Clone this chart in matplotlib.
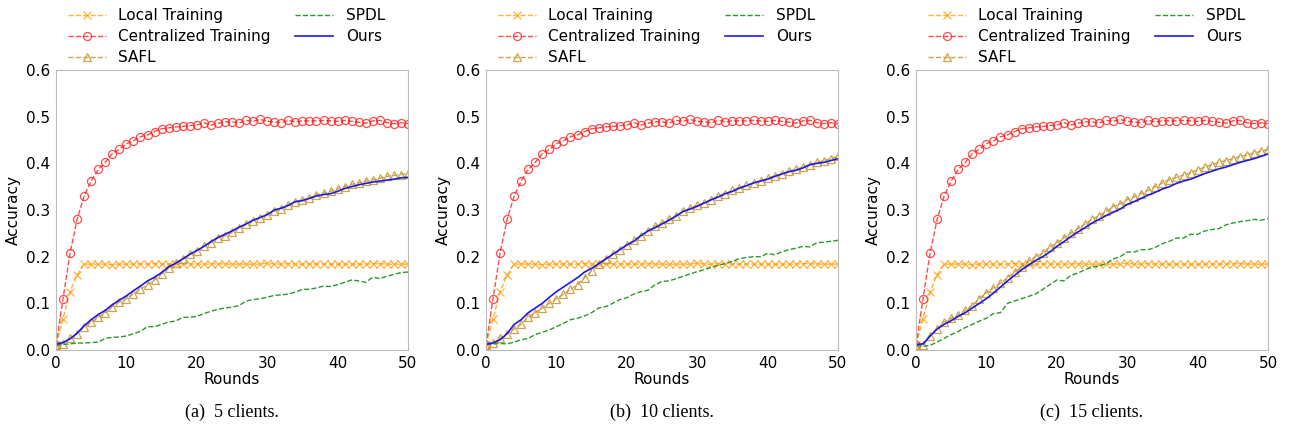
import matplotlib
matplotlib.use('Agg')
import matplotlib.pyplot as plt
import numpy as np

rounds = np.arange(51)

central = [0.01, 0.11, 0.208, 0.28, 0.33, 0.362, 0.387, 0.402, 0.421, 0.43, 0.442,
           0.448, 0.457, 0.461, 0.468, 0.474, 0.476, 0.478, 0.479, 0.481, 0.482,
           0.487, 0.482, 0.486, 0.489, 0.489, 0.486, 0.492, 0.49, 0.494, 0.49,
           0.489, 0.487, 0.492, 0.489, 0.491, 0.491, 0.491, 0.492, 0.491, 0.49,
           0.492, 0.49, 0.488, 0.486, 0.491, 0.492, 0.487, 0.485, 0.487, 0.485]

local = [0.01, 0.067, 0.125, 0.161, 0.184, 0.184, 0.184, 0.184, 0.183, 0.184, 0.184,
         0.184, 0.184, 0.184, 0.185, 0.184, 0.184, 0.184, 0.184, 0.184, 0.184,
         0.184, 0.184, 0.185, 0.184, 0.184, 0.184, 0.184, 0.184, 0.184, 0.186,
         0.184, 0.184, 0.185, 0.184, 0.184, 0.184, 0.184, 0.184, 0.184, 0.184,
         0.184, 0.184, 0.184, 0.184, 0.185, 0.185, 0.184, 0.184, 0.184, 0.184]

safl_5 = [0.01, 0.013, 0.025, 0.035, 0.05, 0.06, 0.07, 0.08, 0.093, 0.103, 0.11,
          0.12, 0.13, 0.14, 0.15, 0.163, 0.175, 0.187, 0.195, 0.205, 0.213,
          0.222, 0.23, 0.24, 0.245, 0.252, 0.262, 0.27, 0.277, 0.283, 0.29,
          0.297, 0.303, 0.31, 0.317, 0.322, 0.326, 0.333, 0.336, 0.34, 0.345,
          0.35, 0.355, 0.358, 0.362, 0.365, 0.368, 0.372, 0.374, 0.376, 0.378]
ours_5 = [0.012, 0.016, 0.024, 0.036, 0.052, 0.065, 0.076, 0.085, 0.097, 0.107, 0.116,
          0.127, 0.137, 0.148, 0.156, 0.166, 0.178, 0.186, 0.195, 0.205, 0.213,
          0.222, 0.232, 0.241, 0.248, 0.255, 0.263, 0.27, 0.278, 0.284, 0.29,
          0.3, 0.304, 0.31, 0.318, 0.32, 0.325, 0.33, 0.333, 0.335, 0.34,
          0.346, 0.35, 0.354, 0.357, 0.36, 0.362, 0.364, 0.366, 0.369, 0.37]
spdl_5 = [0.01, 0.012, 0.013, 0.015, 0.015, 0.016, 0.017, 0.025, 0.027, 0.028, 0.03,
          0.035, 0.04, 0.05, 0.05, 0.055, 0.06, 0.062, 0.07, 0.07, 0.072,
          0.078, 0.083, 0.087, 0.09, 0.092, 0.095, 0.105, 0.108, 0.11, 0.113,
          0.117, 0.118, 0.12, 0.124, 0.13, 0.13, 0.133, 0.137, 0.136, 0.14,
          0.145, 0.15, 0.148, 0.145, 0.156, 0.153, 0.158, 0.162, 0.166, 0.167]

safl_10 = [0.01, 0.015, 0.025, 0.035, 0.045, 0.055, 0.07, 0.08, 0.09, 0.1, 0.11,
           0.12, 0.13, 0.14, 0.155, 0.17, 0.185, 0.195, 0.205, 0.215, 0.225,
           0.235, 0.245, 0.255, 0.265, 0.272, 0.28, 0.288, 0.297, 0.304, 0.31,
           0.316, 0.322, 0.33, 0.335, 0.342, 0.348, 0.353, 0.358, 0.363, 0.368,
           0.373, 0.378, 0.383, 0.387, 0.392, 0.397, 0.402, 0.406, 0.41, 0.415]
ours_10 = [0.012, 0.015, 0.022, 0.035, 0.055, 0.065, 0.08, 0.09, 0.1, 0.113, 0.125,
           0.135, 0.145, 0.155, 0.167, 0.175, 0.185, 0.195, 0.205, 0.215, 0.225,
           0.233, 0.245, 0.255, 0.262, 0.27, 0.278, 0.287, 0.297, 0.302, 0.308,
           0.315, 0.322, 0.328, 0.335, 0.34, 0.347, 0.352, 0.358, 0.362, 0.366,
           0.372, 0.377, 0.382, 0.385, 0.39, 0.397, 0.4, 0.402, 0.406, 0.41]
spdl_10 = [0.012, 0.013, 0.014, 0.013, 0.017, 0.022, 0.025, 0.033, 0.038, 0.043, 0.05,
           0.057, 0.065, 0.068, 0.073, 0.08, 0.09, 0.093, 0.1, 0.108, 0.112,
           0.12, 0.125, 0.128, 0.14, 0.147, 0.148, 0.153, 0.158, 0.163, 0.168,
           0.172, 0.177, 0.182, 0.185, 0.19, 0.196, 0.198, 0.2, 0.2, 0.207,
           0.204, 0.21, 0.215, 0.218, 0.222, 0.221, 0.23, 0.231, 0.233, 0.235]

safl_15 = [0.008, 0.01, 0.03, 0.045, 0.06, 0.068, 0.075, 0.085, 0.095, 0.11, 0.123,
           0.133, 0.143, 0.155, 0.167, 0.178, 0.19, 0.2, 0.207, 0.22, 0.23,
           0.24, 0.25, 0.26, 0.27, 0.28, 0.288, 0.297, 0.307, 0.313, 0.322,
           0.328, 0.335, 0.342, 0.35, 0.358, 0.365, 0.37, 0.375, 0.38, 0.386,
           0.392, 0.397, 0.402, 0.406, 0.41, 0.414, 0.418, 0.422, 0.426, 0.43]
ours_15 = [0.012, 0.013, 0.03, 0.045, 0.055, 0.063, 0.072, 0.08, 0.09, 0.1, 0.11,
           0.122, 0.135, 0.148, 0.16, 0.172, 0.182, 0.192, 0.2, 0.21, 0.222,
           0.232, 0.243, 0.253, 0.262, 0.272, 0.28, 0.288, 0.295, 0.302, 0.312,
           0.318, 0.325, 0.332, 0.338, 0.345, 0.35, 0.357, 0.362, 0.366, 0.372,
           0.378, 0.383, 0.388, 0.392, 0.397, 0.402, 0.406, 0.41, 0.415, 0.42]
spdl_15 = [0.01, 0.008, 0.01, 0.017, 0.025, 0.033, 0.04, 0.048, 0.055, 0.062, 0.068,
           0.078, 0.08, 0.1, 0.105, 0.11, 0.115, 0.12, 0.13, 0.14, 0.15,
           0.148, 0.16, 0.165, 0.172, 0.178, 0.18, 0.185, 0.195, 0.2, 0.21,
           0.21, 0.215, 0.215, 0.22, 0.228, 0.233, 0.24, 0.24, 0.248, 0.248,
           0.255, 0.258, 0.26, 0.268, 0.272, 0.275, 0.277, 0.28, 0.278, 0.282]

captions = ["(a)  5 clients.", "(b)  10 clients.", "(c)  15 clients."]
safl_all = [safl_5, safl_10, safl_15]
ours_all = [ours_5, ours_10, ours_15]
spdl_all = [spdl_5, spdl_10, spdl_15]

plt.rcParams['font.family'] = 'DejaVu Sans'
fig = plt.figure(figsize=(12.94, 4.33), dpi=100)
W, H = 1294, 433
lefts = [56, 486, 916]
for i in range(3):
    ax = fig.add_axes([lefts[i] / W, 1 - 350 / H, 352 / W, 280 / H])
    ax.plot(rounds, local, ls='--', color='#ff9900', marker='x', ms=5.5, lw=1,
            mew=0.9, alpha=0.75, label='Local Training')
    ax.plot(rounds, central, ls='--', color='#ff2020', marker='o', ms=5.8, lw=1,
            mfc='none', mew=0.9, alpha=0.8, label='Centralized Training')
    ax.plot(rounds, safl_all[i], ls='--', color='#c89a3a', marker='^', ms=6, lw=1,
            mfc='none', mew=0.9, alpha=0.9, label='SAFL')
    ax.plot(rounds, spdl_all[i], ls='--', color='#2a9a2a', lw=1, label='SPDL')
    ax.plot(rounds, ours_all[i], ls='-', color='#1a1aee', lw=1.2, label='Ours')
    ax.set_xlim(0, 50)
    ax.set_ylim(0, 0.6)
    ax.set_xticks(range(0, 51, 10))
    ax.set_yticks(np.arange(0, 0.61, 0.1))
    ax.set_yticklabels([f"{v:.1f}" for v in np.arange(0, 0.61, 0.1)])
    ax.tick_params(length=0, labelsize=11, pad=4)
    for s in ax.spines.values():
        s.set_color('#bbbbbb')
    ax.set_xlabel('Rounds', fontsize=11, labelpad=1)
    ax.set_ylabel('Accuracy', fontsize=11, labelpad=4)
    h, l = ax.get_legend_handles_labels()
    ax.legend(h, l, ncol=2, loc='lower left', bbox_to_anchor=(0.012, 0.99),
              frameon=False, fontsize=11, labelspacing=0.4, columnspacing=1.6,
              handlelength=2.5, borderaxespad=0.1)
    ax.text(0.5, -0.19, captions[i], transform=ax.transAxes, ha='center', va='top',
            fontsize=13, family='Liberation Serif')

fig.savefig('out.png', dpi=100)
